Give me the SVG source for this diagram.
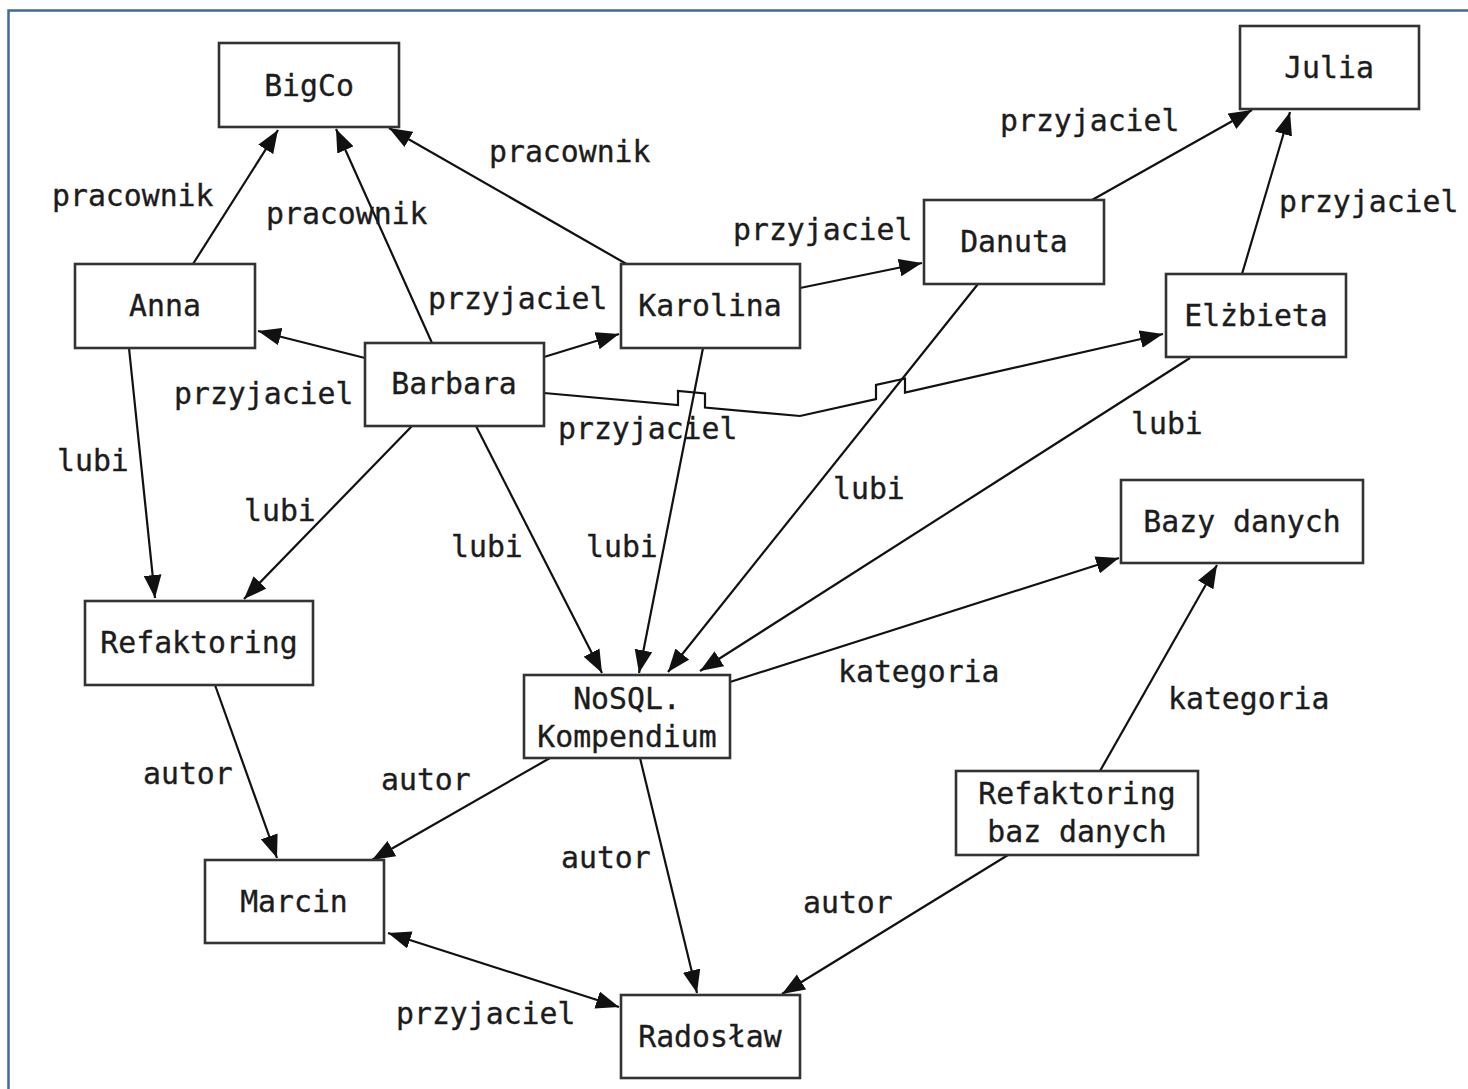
<svg xmlns="http://www.w3.org/2000/svg" width="1468" height="1089" viewBox="0 0 1468 1089">
  <defs>
    <marker id="arrow" markerUnits="userSpaceOnUse" markerWidth="24" markerHeight="18" refX="22" refY="8.5" orient="auto-start-reverse" viewBox="0 0 23 17">
      <path d="M0,0 L22,8.5 L0,17 z" fill="#111"/>
    </marker>
    <style>
      .frame { stroke: #41689f; stroke-width: 2.5; fill: none; }
      .node rect { fill: #fff; stroke: #333; stroke-width: 2.6; }
      text { font-family: "DejaVu Sans Mono", "Liberation Mono", monospace; font-size: 29.8px; fill: #1c1c1c; stroke: #1c1c1c; stroke-width: 0.35; dominant-baseline: central; }
      .node text { text-anchor: middle; }
      .edges path, .edges line { stroke: #111; stroke-width: 2.2; fill: none; }
      .arr { marker-end: url(#arrow); }
      .both { marker-start: url(#arrow); marker-end: url(#arrow); }
    </style>
  </defs>

  <rect width="1468" height="1089" fill="#fff"/>
  <!-- page frame -->
  <path class="frame" d="M8.5,1089 V10.5 H1468"/>

  <!-- connectors -->
  <g id="edges" class="edges">
    <line class="arr" x1="193" y1="264" x2="278" y2="130"/>
    <line class="arr" x1="432" y1="343" x2="336" y2="129"/>
    <line class="arr" x1="630" y1="266" x2="389" y2="128"/>
    <line class="arr" x1="800" y1="288" x2="922" y2="263"/>
    <line class="arr" x1="1092" y1="200" x2="1252" y2="110"/>
    <line class="arr" x1="1242" y1="274" x2="1290" y2="112"/>
    <line class="arr" x1="365" y1="358" x2="258" y2="331"/>
    <line class="arr" x1="544" y1="357" x2="619" y2="334"/>
    <path class="arr" d="M544,393 L678,405 L678,391 L705,393.5 L705,407.5 L800,416 L876,399 L876,385 L905,378.5 L905,392.5 L1163,334"/>
    <line class="arr" x1="129" y1="348" x2="155" y2="598"/>
    <line class="arr" x1="412" y1="426" x2="244" y2="599"/>
    <line class="arr" x1="476" y1="426" x2="602" y2="673"/>
    <line class="arr" x1="703" y1="348" x2="639" y2="673"/>
    <line class="arr" x1="978" y1="284" x2="668" y2="672"/>
    <line class="arr" x1="1190" y1="358" x2="700" y2="671"/>
    <line class="arr" x1="730" y1="682" x2="1119" y2="558"/>
    <line class="arr" x1="1100" y1="771" x2="1217" y2="565"/>
    <line class="arr" x1="215" y1="685" x2="277" y2="858"/>
    <line class="arr" x1="550" y1="758" x2="372" y2="860"/>
    <line class="arr" x1="640" y1="758" x2="697" y2="993"/>
    <line class="arr" x1="1008" y1="855" x2="782" y2="994"/>
    <line class="both" x1="388" y1="933" x2="619" y2="1007"/>
  </g>

  <!-- connector labels -->
  <g id="labels">
    <text x="52" y="195">pracownik</text>
    <text x="266" y="213">pracownik</text>
    <text x="489" y="151">pracownik</text>
    <text x="1000" y="120">przyjaciel</text>
    <text x="1279" y="201">przyjaciel</text>
    <text x="733" y="229">przyjaciel</text>
    <text x="428" y="298">przyjaciel</text>
    <text x="174" y="393">przyjaciel</text>
    <text x="558" y="428">przyjaciel</text>
    <text x="57" y="460">lubi</text>
    <text x="244" y="510">lubi</text>
    <text x="451" y="546">lubi</text>
    <text x="586" y="546">lubi</text>
    <text x="833" y="488">lubi</text>
    <text x="1131" y="423">lubi</text>
    <text x="838" y="671">kategoria</text>
    <text x="1168" y="698">kategoria</text>
    <text x="143" y="773">autor</text>
    <text x="381" y="779">autor</text>
    <text x="561" y="857">autor</text>
    <text x="803" y="902">autor</text>
    <text x="396" y="1013">przyjaciel</text>
  </g>

  <!-- nodes -->
  <g id="bigco" class="node"><rect x="219" y="43" width="180" height="84"/><text x="309" y="85">BigCo</text></g>
  <g id="julia" class="node"><rect x="1240" y="26" width="179" height="83"/><text x="1329" y="67">Julia</text></g>
  <g id="anna" class="node"><rect x="75" y="264" width="180" height="84"/><text x="165" y="305">Anna</text></g>
  <g id="karolina" class="node"><rect x="621" y="264" width="179" height="84"/><text x="710" y="305">Karolina</text></g>
  <g id="danuta" class="node"><rect x="924" y="200" width="180" height="84"/><text x="1014" y="241">Danuta</text></g>
  <g id="elzbieta" class="node"><rect x="1166" y="274" width="180" height="83"/><text x="1256" y="315">Elżbieta</text></g>
  <g id="barbara" class="node"><rect x="365" y="343" width="179" height="83"/><text x="454" y="383">Barbara</text></g>
  <g id="bazy-danych" class="node"><rect x="1121" y="480" width="242" height="83"/><text x="1242" y="521">Bazy danych</text></g>
  <g id="refaktoring" class="node"><rect x="85" y="601" width="228" height="84"/><text x="199" y="642">Refaktoring</text></g>
  <g id="nosql" class="node"><rect x="524" y="675" width="206" height="83"/><text x="627" y="698">NoSQL.</text><text x="627" y="736">Kompendium</text></g>
  <g id="refaktoring-baz" class="node"><rect x="956" y="771" width="242" height="84"/><text x="1077" y="793">Refaktoring</text><text x="1077" y="831">baz danych</text></g>
  <g id="marcin" class="node"><rect x="205" y="860" width="179" height="83"/><text x="294" y="901">Marcin</text></g>
  <g id="radoslaw" class="node"><rect x="621" y="995" width="179" height="83"/><text x="710" y="1036">Radosław</text></g>
</svg>
